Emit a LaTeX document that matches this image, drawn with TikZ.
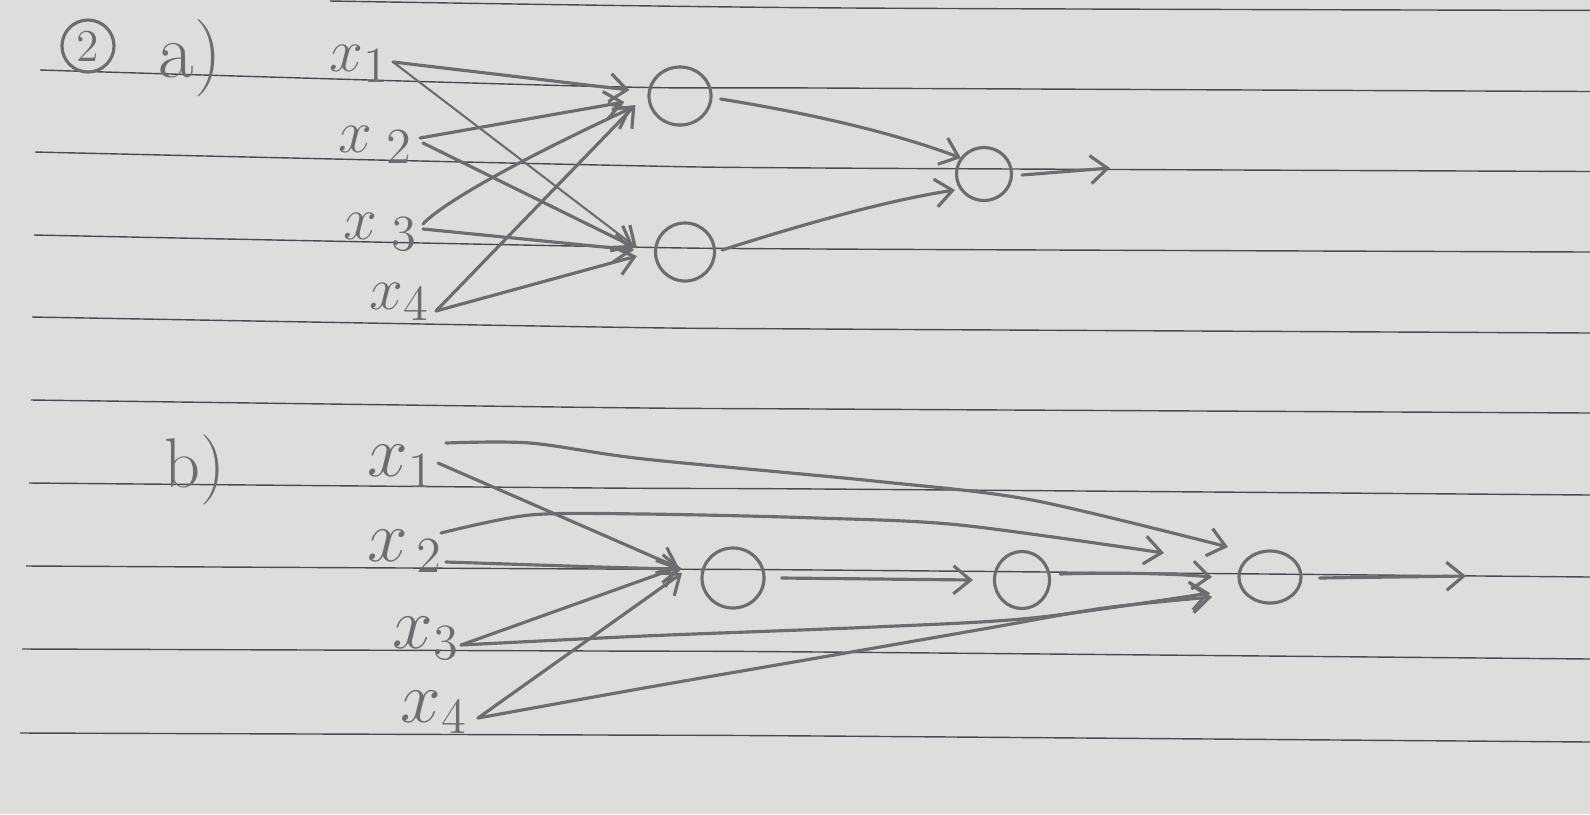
\documentclass[tikz,border=0pt]{standalone}
\usetikzlibrary{arrows.meta,shapes.geometric,calc}
\definecolor{paper}{RGB}{221,222,220}
\definecolor{pencil}{RGB}{108,109,110}
\definecolor{rule}{RGB}{72,76,80}
\tikzset{
  pen/.style={draw=pencil, line width=0.9pt, line cap=round, line join=round},
  faint/.style={draw=pencil, line width=0.6pt, line cap=round},
  tip/.style={-{Straight Barb[length=1.7mm,width=2.8mm,line width=0.9pt]}},
  unit/.style={ellipse, draw=pencil, line width=0.9pt, inner sep=0pt},
  lbla/.style={text=pencil, inner sep=0pt, font=\fontsize{19}{22}\selectfont},
  lblb/.style={text=pencil, inner sep=0pt, font=\fontsize{22}{26}\selectfont},
  ruling/.style={draw=rule, line width=0.4pt},
}
\begin{document}
\begin{tikzpicture}[x=0.01cm,y=-0.01cm]
% sheet of ruled paper
\fill[paper] (0,0) rectangle (1590,814);
\useasboundingbox (0,0) rectangle (1590,814);
\draw[ruling] plot[smooth] coordinates {(330,1) (820,7.8) (1590,10.4)};
\draw[ruling] plot[smooth] coordinates {(40,70) (600,86.5) (820,88) (1590,91.5)};
\draw[ruling] plot[smooth] coordinates {(35,152) (600,165) (820,168) (1590,171.5)};
\draw[ruling] plot[smooth] coordinates {(34,235) (600,246.5) (820,249) (1590,252)};
\draw[ruling] plot[smooth] coordinates {(32,317) (600,327) (820,329) (1590,333)};
\draw[ruling] plot[smooth] coordinates {(31,400) (600,407.5) (820,409) (1590,413)};
\draw[ruling] plot[smooth] coordinates {(29,483) (600,488) (820,489) (1590,495)};
\draw[ruling] plot[smooth] coordinates {(26,566) (600,569) (820,570) (1590,577)};
\draw[ruling] plot[smooth] coordinates {(22,649) (600,651) (820,652) (1590,659)};
\draw[ruling] plot[smooth] coordinates {(20,733) (600,735) (820,736) (1590,742)};

% ---------- question number and part a ----------
\node[circle, draw=pencil, line width=0.9pt, minimum size=0.52cm, inner sep=0pt,
      text=pencil, font=\fontsize{13}{15}\selectfont] (qnum) at (88,46) {2};
\node[text=pencil, font=\fontsize{22}{26}\selectfont] (parta) at (190,58) {a)};

\node[lbla] (ax1) at (360,64) {$x_{1}$};
\node[lbla] (ax2) at (376,145) {$x_{\;2}$};
\node[lbla] (ax3) at (381,232) {$x_{\;3}$};
\node[lbla] (ax4) at (400,302) {$x_{4}$};

\node[unit, minimum width=0.62cm, minimum height=0.58cm] (h1) at (680,96) {};
\node[unit, minimum width=0.59cm, minimum height=0.58cm] (h2) at (685,252) {};
\node[unit, minimum width=0.55cm, minimum height=0.53cm] (ao) at (984,174) {};

% input ports
\coordinate (a1s) at (393,62);
\coordinate (a2s) at (420,138);
\coordinate (a2t) at (423,143);
\coordinate (a3s) at (423,229);
\coordinate (a3t) at (423,224);
\coordinate (a4s) at (436,311);

\draw[pen,tip] (a1s) -- ($(h1.west)+(-18,-6)$);
\draw[faint,tip] (a1s) -- ($(h2.west)+(-17,-4)$);
\draw[pen,tip] (a2s) -- ($(h1.west)+(-23,6)$);
\draw[pen,tip] (a2t) -- ($(h2.west)+(-20,-5)$);
\draw[pen,tip] (a3t) .. controls (445,200) and (540,150) .. ($(h1.west)+(-16,12)$);
\draw[pen,tip] (a3s) -- ($(h2.west)+(-20,-2)$);
\draw[pen,tip] (a4s) -- ($(h1.west)+(-12,9)$);
\draw[pen,tip] (a4s) -- ($(h2.west)+(-17,4)$);

\draw[pen,tip] ($(h1.east)+(8,3)$) .. controls (820,115) and (900,135) .. ($(ao.center)+(-23,-16)$);
\draw[pen,tip] ($(h2.east)+(6,-2)$) .. controls (810,222) and (890,200) .. ($(ao.center)+(-29,16)$);
\coordinate (aout) at (1110,168);
\draw[pen,tip] ($(ao.east)+(9,1)$) -- (aout);

% ---------- part b ----------
\node[text=pencil, font=\fontsize{20}{24}\selectfont] (partb) at (195,470) {b)};

\node[lblb] (bx1) at (401,466) {$x_{1}$};
\node[lblb] (bx2) at (405,551) {$x_{\,2}$};
\node[lblb] (bx3) at (426,638) {$x_{3}$};
\node[lblb] (bx4) at (434,712) {$x_{4}$};

\node[unit, minimum width=0.62cm, minimum height=0.6cm] (g1) at (733,578) {};
\node[unit, minimum width=0.55cm, minimum height=0.57cm] (g2) at (1022,580) {};
\node[unit, minimum width=0.62cm, minimum height=0.52cm] (bo) at (1270,577) {};

% input ports
\coordinate (b1t) at (446,443);
\coordinate (b1s) at (438,463);
\coordinate (b2t) at (441,533);
\coordinate (b2s) at (446,562);
\coordinate (b3s) at (461,645);
\coordinate (b4s) at (478,718);

% into the first hidden unit
\draw[pen,tip] (b1s) -- ($(g1.center)+(-54,-10)$);
\draw[pen,tip] (b2s) .. controls (540,565) and (620,568) .. ($(g1.center)+(-51,-9)$);
\draw[pen,tip] (b3s) -- ($(g1.center)+(-54,-11)$);
\draw[pen,tip] (b4s) -- ($(g1.center)+(-51,-5)$);

% skip connections to the output unit
\draw[pen,tip] plot[smooth] coordinates {(b1t) (530,443) (644,459) (874,481) (1032,500) ($(bo.center)+(-42,-30)$)};
\draw[pen,tip] plot[smooth] coordinates {(b2t) (530,515) (644,514) (817,518) (960,525) ($(bo.center)+(-106,-24)$)};
\draw[pen,tip] plot[smooth] coordinates {(b3s) (644,636) (874,627) (1032,618) ($(bo.center)+(-60,16)$)};
\draw[pen,tip] plot[smooth] coordinates {(b4s) (644,688) (817,658) (989,628) (1104,608) ($(bo.center)+(-58,20)$)};

% chain through the hidden units
\draw[pen,tip] ($(g1.east)+(16,0)$) -- ($(g2.west)+(-20,0)$);
\draw[pen,tip] ($(g2.east)+(9,-6)$) .. controls (1120,572) and (1180,574) .. ($(bo.center)+(-58,0)$);
\coordinate (bout) at (1466,576);
\draw[pen,tip] ($(bo.east)+(17,1)$) -- (bout);
\end{tikzpicture}
\end{document}
